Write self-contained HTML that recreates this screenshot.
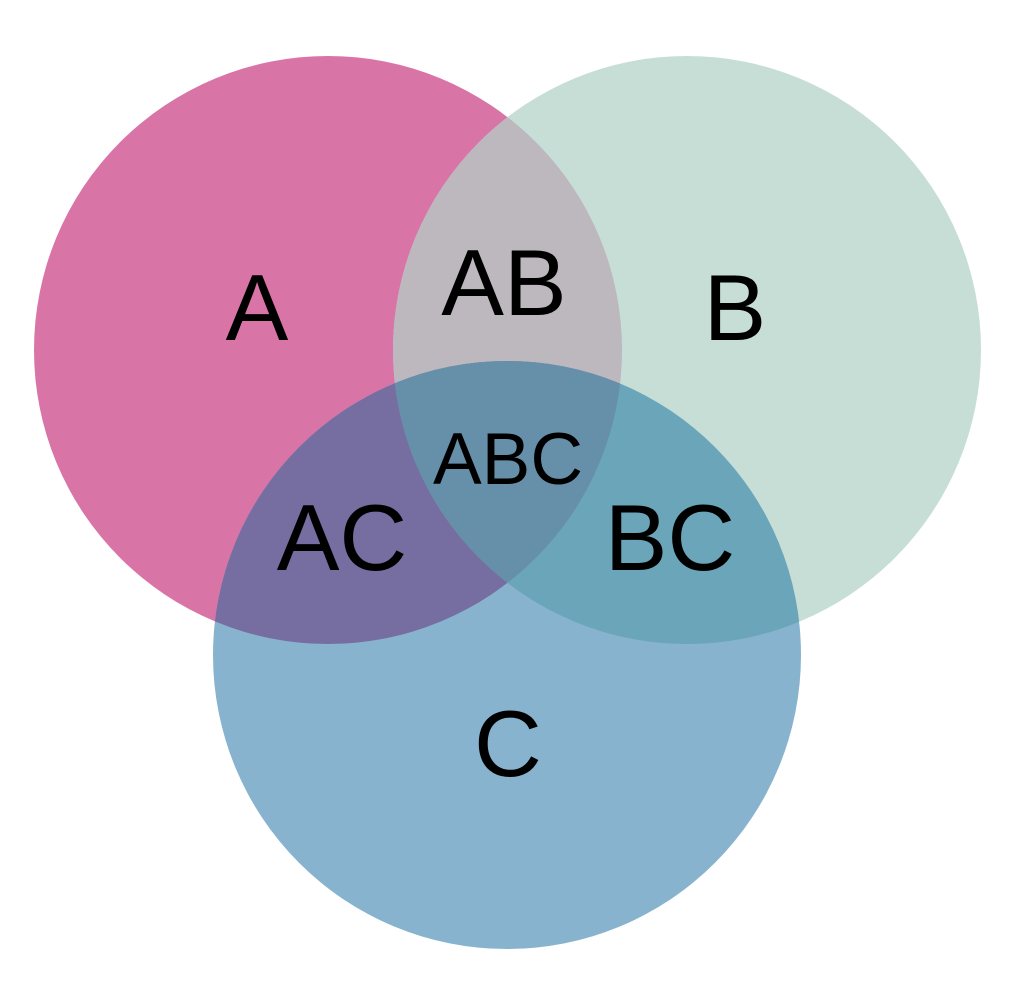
<!DOCTYPE html>
<html><head><meta charset="utf-8"><style>
html,body{margin:0;padding:0;background:#fff;}
svg{display:block;}
text{font-family:"Liberation Sans",sans-serif;fill:#000;text-anchor:middle;}
</style></head><body>
<svg width="1020" height="983" viewBox="0 0 1020 983" xmlns="http://www.w3.org/2000/svg">
<defs>
<clipPath id="cA"><circle cx="328" cy="350" r="294"/></clipPath>
<clipPath id="cB"><circle cx="687" cy="350" r="294"/></clipPath>
</defs>
<rect width="1020" height="983" fill="#fff"/>
<circle cx="328" cy="350" r="294" fill="#d974a6"/>
<circle cx="687" cy="350" r="294" fill="#c6ded6"/>
<circle cx="507" cy="655" r="294" fill="#87b3ce"/>
<circle cx="687" cy="350" r="294" fill="#bdb7be" clip-path="url(#cA)"/>
<circle cx="507" cy="655" r="294" fill="#766ea0" clip-path="url(#cA)"/>
<circle cx="507" cy="655" r="294" fill="#6aa5b9" clip-path="url(#cB)"/>
<g clip-path="url(#cA)"><circle cx="507" cy="655" r="294" fill="#6690aa" clip-path="url(#cB)"/></g>
<text x="257" y="340" font-size="94">A</text>
<text x="504" y="315" font-size="94">AB</text>
<text x="735" y="340" font-size="94">B</text>
<text x="342" y="570" font-size="94">AC</text>
<text x="670" y="570" font-size="94">BC</text>
<text x="508" y="776" font-size="94">C</text>
<text x="508" y="484" font-size="73">ABC</text>
</svg>
</body></html>
